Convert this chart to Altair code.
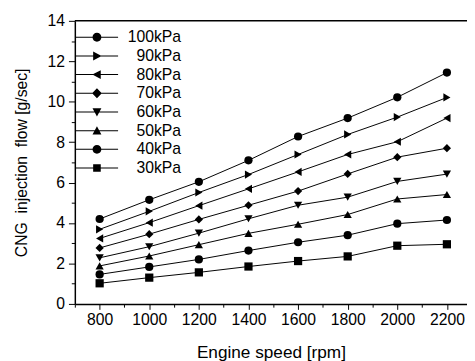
import altair as alt
import pandas as pd

speeds = [800, 1000, 1200, 1400, 1600, 1800, 2000, 2200]
pressures = ["100kPa", "90kPa", "80kPa", "70kPa", "60kPa", "50kPa", "40kPa", "30kPa"]
flow_100 = [4.20, 5.15, 6.04, 7.10, 8.28, 9.19, 10.22, 11.44]
flow_90 = [3.69, 4.58, 5.51, 6.40, 7.39, 8.38, 9.24, 10.21]
flow_80 = [3.24, 4.02, 4.86, 5.69, 6.53, 7.39, 8.02, 9.19]
flow_70 = [2.77, 3.45, 4.18, 4.88, 5.58, 6.43, 7.26, 7.70]
flow_60 = [2.28, 2.83, 3.50, 4.21, 4.88, 5.28, 6.06, 6.42]
flow_50 = [1.88, 2.37, 2.93, 3.49, 3.94, 4.42, 5.19, 5.41]
flow_40 = [1.46, 1.83, 2.20, 2.64, 3.05, 3.40, 3.97, 4.15]
flow_30 = [1.02, 1.30, 1.56, 1.85, 2.12, 2.35, 2.88, 2.95]
series = [flow_100, flow_90, flow_80, flow_70, flow_60, flow_50, flow_40, flow_30]

point_shapes = ["circle", "triangle-right", "triangle-left", "diamond",
                "triangle-down", "triangle-up", "circle", "square"]
# legend symbols: a thin horizontal bar (the line) with the marker on it (unit box)
BAR = "M-1,-0.024H1V0.024H-1Z"
legend_shapes = [
    BAR + "M0.21,0A0.21,0.21,0,1,1,-0.21,0A0.21,0.21,0,1,1,0.21,0Z",
    BAR + "M-0.18,-0.21L0.22,0L-0.18,0.21Z",
    BAR + "M0.18,0.21L-0.22,0L0.18,-0.21Z",
    BAR + "M0,-0.24L0.23,0L0,0.24L-0.23,0Z",
    BAR + "M-0.21,-0.18L0.21,-0.18L0,0.21Z",
    BAR + "M0.21,0.18L-0.21,0.18L0,-0.21Z",
    BAR + "M0.21,0A0.21,0.21,0,1,1,-0.21,0A0.21,0.21,0,1,1,0.21,0Z",
    BAR + "M-0.18,-0.18H0.18V0.18H-0.18Z",
]

major_x = [800, 1000, 1200, 1400, 1600, 1800, 2000, 2200]
minor_x = [700, 900, 1100, 1300, 1500, 1700, 1900, 2100]
major_y = [0, 2, 4, 6, 8, 10, 12, 14]
minor_y = [1, 3, 5, 7, 9, 11, 13]

rows = []
for p, vals in zip(pressures, series):
    for s, v in zip(speeds, vals):
        rows.append({"Speed": s, "Flow": v, "Pressure": p})
df = pd.DataFrame(rows)

FONT = "Liberation Sans"
X_DOMAIN = [700, 2281]
Y_DOMAIN = [0, 14]
frame_df = pd.DataFrame({"Top": [Y_DOMAIN[1]]})


def xs():
    return alt.Scale(domain=X_DOMAIN, nice=False, zero=False)


def ys():
    return alt.Scale(domain=Y_DOMAIN, nice=False, zero=False)


base = alt.Chart(df)

lines = base.mark_line(color="black", strokeWidth=1).encode(
    x=alt.X("Speed:Q", scale=xs(), axis=alt.Axis(
        orient="bottom", values=major_x, title="Engine speed [rpm]", tickSize=5.5,
        labelPadding=2, titlePadding=17, titleFontSize=17.5, grid=False, format="d")),
    y=alt.Y("Flow:Q", scale=ys(), axis=alt.Axis(
        orient="left", values=major_y, title="CNG\u00a0 injection\u00a0 flow [g/sec]",
        tickSize=6.5, labelPadding=4, titlePadding=18, titleFontSize=16, grid=False)),
    detail="Pressure:N",
)

points = base.mark_point(filled=True, size=70, color="black", opacity=1).encode(
    x=alt.X("Speed:Q", scale=xs(), axis=alt.Axis(
        orient="bottom", values=minor_x, labels=False, title=None, tickSize=3.3,
        domain=False, grid=False)),
    y=alt.Y("Flow:Q", scale=ys(), axis=alt.Axis(
        orient="left", values=minor_y, labels=False, title=None, tickSize=3.6,
        domain=False, grid=False)),
    shape=alt.Shape("Pressure:N", scale=alt.Scale(domain=pressures, range=point_shapes),
                    legend=None),
)

frame_top = alt.Chart(frame_df).mark_rule(color="black", strokeWidth=1.5).encode(
    y=alt.Y("Top:Q", scale=ys(), axis=None),
)

legend_layer = base.transform_filter("datum.Speed < 0").mark_point(
    filled=True, color="black", size=1849).encode(
    x=alt.X("Speed:Q", scale=xs(), axis=None),
    y=alt.Y("Flow:Q", scale=ys(), axis=None),
    shape=alt.Shape("Pressure:N", scale=alt.Scale(domain=pressures, range=legend_shapes),
                    legend=alt.Legend(
                        title=None, orient="none", legendX=0, legendY=7.2,
                        symbolSize=1849, clipHeight=19, rowPadding=0, padding=0,
                        symbolFillColor="black", symbolOpacity=1,
                        labelAlign="right", labelOffset=63, labelFontSize=16,
                        labelFont=FONT, labelColor="black", labelLimit=0)),
)

chart = alt.layer(lines, points, frame_top, legend_layer).resolve_scale(
    x="independent", y="independent", shape="independent"
).resolve_axis(
    x="independent", y="independent"
).properties(
    width=399, height=288,
    autosize=alt.AutoSizeParams(type="none"),
    padding={"left": 68, "top": 10, "right": 0, "bottom": 55},
).configure_view(stroke=None).configure_axis(
    labelFont=FONT, titleFont=FONT, labelFontSize=16,
    titleFontWeight="normal", labelColor="black", titleColor="black",
    tickColor="black", domainColor="black", domainWidth=1.5, tickWidth=1,
)

chart.save("out.html", embed_options={"renderer": "svg", "actions": False})
